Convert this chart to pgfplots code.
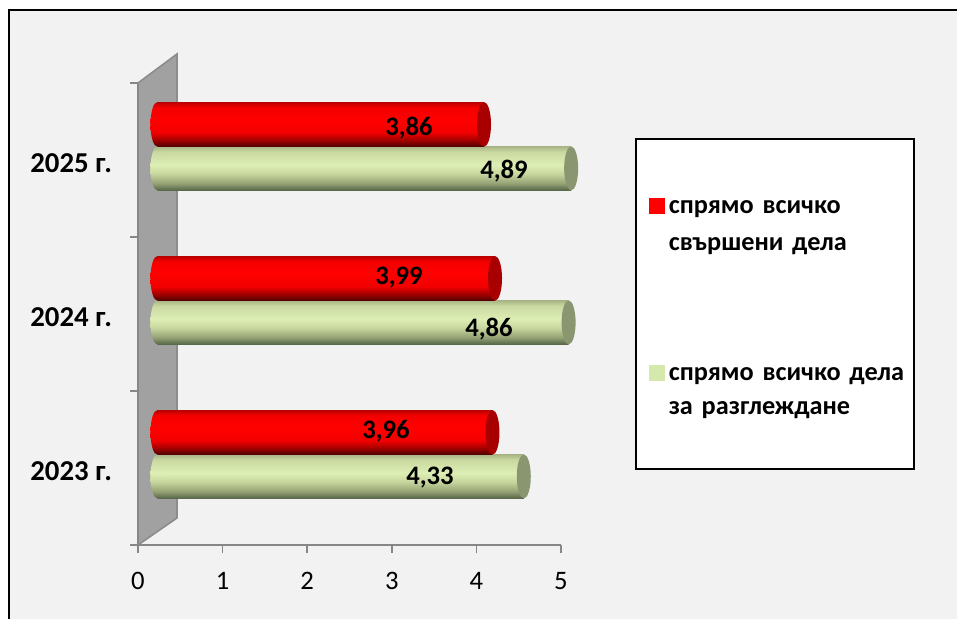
\documentclass[border=0pt]{standalone}
\usepackage{fontspec}
\setmainfont{Carlito}
\usepackage{pgfplots}
\pgfplotsset{compat=1.18}

% cylinder shadings: the path fits the middle 25bp to 75bp of the shading
\pgfdeclareverticalshading{redcyl}{100bp}{
  color(0bp)=(red!30!black); color(25bp)=(red!30!black); color(32bp)=(red!62!black); color(41bp)=(red!95!black);
  color(55bp)=(red); color(69bp)=(red!96!black); color(75bp)=(red!72!black); color(100bp)=(red!72!black)}
\definecolor{gA}{HTML}{566546}
\definecolor{gB}{HTML}{94A275}
\definecolor{gC}{HTML}{C8D69E}
\definecolor{gD}{HTML}{DDEFB4}
\definecolor{gE}{HTML}{C9D8A0}
\definecolor{gF}{HTML}{A8B484}
\pgfdeclareverticalshading{greencyl}{100bp}{
  color(0bp)=(gA); color(25bp)=(gA); color(33bp)=(gB); color(44bp)=(gC);
  color(54bp)=(gD); color(69bp)=(gE); color(75bp)=(gF); color(100bp)=(gF)}
\definecolor{redend}{HTML}{A80000}
\definecolor{greenend}{HTML}{8A9670}

% ends of the cylinders
\pgfdeclareplotmark{endred}{\pgfpathellipse{\pgfpointorigin}{\pgfqpoint{5.25pt}{0pt}}{\pgfqpoint{0pt}{16.75pt}}\pgfsetfillcolor{redend}\pgfusepathqfill}
\pgfdeclareplotmark{endgreen}{\pgfpathellipse{\pgfpointorigin}{\pgfqpoint{5.25pt}{0pt}}{\pgfqpoint{0pt}{16.5pt}}\pgfsetfillcolor{greenend}\pgfusepathqfill}
\pgfdeclareplotmark{startred}{\pgfpathellipse{\pgfpointorigin}{\pgfqpoint{5.25pt}{0pt}}{\pgfqpoint{0pt}{16.75pt}}\pgfshadepath{redcyl}{0}\pgfusepath{discard}}
\pgfdeclareplotmark{startgreen}{\pgfpathellipse{\pgfpointorigin}{\pgfqpoint{5.25pt}{0pt}}{\pgfqpoint{0pt}{16.5pt}}\pgfshadepath{greencyl}{0}\pgfusepath{discard}}

\pgfplotsset{
  depth/.style={forget plot,xshift=14.6pt,yshift=10.2pt},
  greenbar/.style={depth,xbar,bar width=33pt,bar shift=0pt,draw=none,shading=greencyl},
  redbar/.style={depth,xbar,bar width=33.5pt,bar shift=0pt,draw=none,shading=redcyl},
}

\begin{document}
\begin{tikzpicture}[font=\fontsize{20}{22}\selectfont]
\useasboundingbox (0,0) rectangle (717.75pt,463.5pt);
% frame, wall and legend box in image pixels
\begin{scope}[shift={(0,463.5pt)},x=0.75pt,y=-0.75pt]
  \draw[black,line width=1.1pt,fill=black!5] (9,640) -- (9,10) -- (975,10) -- (975,640) -- cycle;
  \draw[fill=white,draw=black,line width=1pt] (636,139) rectangle (914,469);
  \draw[fill=black!37,draw=black!45,line width=1.2pt] (138,83) -- (177,54) -- (177,518) -- (138,545) -- cycle;
\end{scope}
\begin{axis}[
  at={(103.5pt,54.75pt)}, anchor=south west,
  scale only axis, width=317.25pt, height=346.5pt,
  xmin=0, xmax=5, ymin=-0.5, ymax=2.5,
  clip=false,
  axis x line*=bottom, axis y line*=left,
  axis line style={draw=black!47,line width=1.5pt,-},
  xtick={0,1,2,3,4,5},
  ytick={-0.5,0.5,1.5,2.5}, yticklabels={},
  extra y ticks={0,1,2},
  extra y tick labels={\textbf{2023 г.},\textbf{2024 г.},\textbf{2025 г.}},
  extra y tick style={major tick length=0pt,
    yticklabel style={font=\fontsize{21.6}{22}\selectfont,xshift=-16pt,yshift=-2pt}},
  major tick style={draw=black!47,line width=1.2pt},
  tick align=outside,
  major tick length=6pt,
  /pgf/number format/assume math mode=true,
  xticklabel style={yshift=-11pt},
  legend style={at={(axis cs:6.04,1.753)},anchor=north west,draw=none,fill=none,
    inner sep=0pt,row sep=112.25pt,column sep=3pt,
    nodes={text width=186pt,align=left,inner sep=0pt,anchor=north west,
      font=\fontsize{19.7}{22}\selectfont}},
  legend cell align=left,
]
% green bars
\addplot[greenbar] coordinates {(4.33,-0.143)};
\addplot[greenbar] coordinates {(4.86,0.857)};
\addplot[greenbar] coordinates {(4.89,1.857)};
\addplot[depth,only marks,mark=startgreen] coordinates {(0,-0.143)(0,0.857)(0,1.857)};
\addplot[depth,only marks,mark=endgreen] coordinates {(4.33,-0.143)(4.86,0.857)(4.89,1.857)};
% red bars
\addplot[redbar] coordinates {(3.96,0.143)};
\addplot[redbar] coordinates {(3.99,1.143)};
\addplot[redbar] coordinates {(3.86,2.143)};
\addplot[depth,only marks,mark=startred] coordinates {(0,0.143)(0,1.143)(0,2.143)};
\addplot[depth,only marks,mark=endred] coordinates {(3.96,0.143)(3.99,1.143)(3.86,2.143)};
% value labels, placed as in the original
\addplot[forget plot,only marks,mark=none,point meta=explicit symbolic,
  nodes near coords,nodes near coords align={center},
  every node near coord/.append style={font=\fontsize{20}{22}\selectfont\bfseries,inner sep=0pt,anchor=center,text=black}]
  table[meta=label] {
x y label
3.203 2.208 3,86
4.326 1.929 4,89
3.085 1.234 3,99
4.149 0.903 4,86
2.931 0.240 3,96
3.452 -0.065 4,33
};
\addlegendimage{legend image code/.code={\fill[red] (0pt,-10pt) rectangle (11.25pt,1.25pt);}}
\addlegendentry{\textbf{спрямо всичко}\\[6pt]\textbf{свършени дела}}
\addlegendimage{legend image code/.code={\fill[gD!70!gC] (0pt,-10pt) rectangle (11.25pt,1.25pt);}}
\addlegendentry{\textbf{спрямо всичко дела}\\[3.75pt]\textbf{за разглеждане}}
\end{axis}
\end{tikzpicture}
\end{document}
